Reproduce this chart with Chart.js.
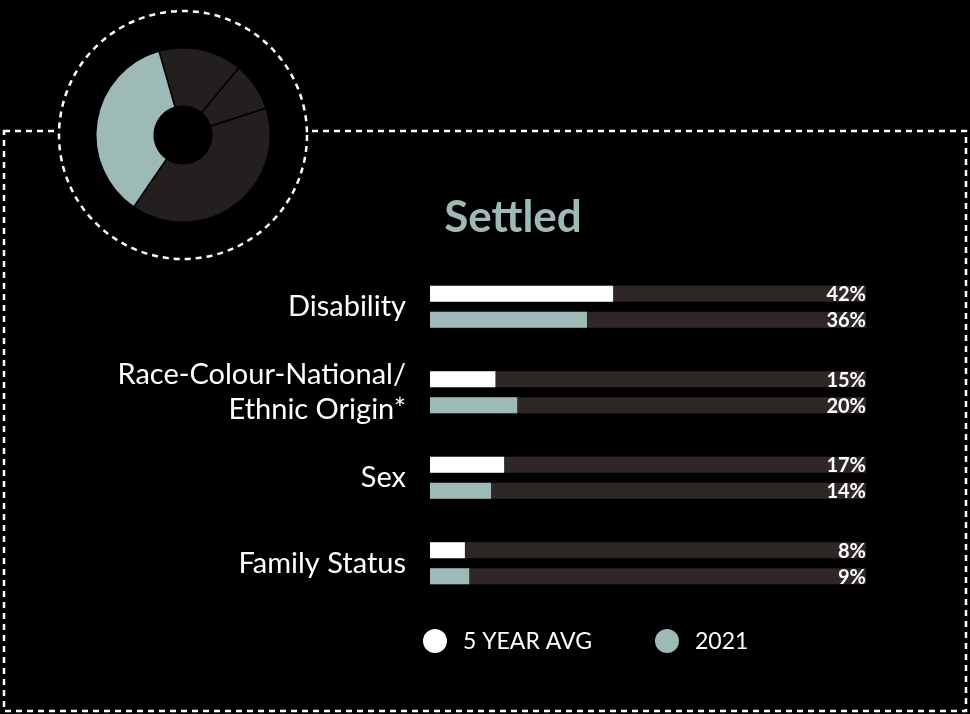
<!DOCTYPE html>
<html>
<head>
<meta charset="utf-8">
<script src="https://cdn.jsdelivr.net/npm/chart.js@4"></script>
<style>
  html, body { margin: 0; padding: 0; background: #000; }
  #wrap { position: relative; width: 970px; height: 714px; }
  #bars { position: absolute; left: 0; top: 0; }
  #donut { position: absolute; left: 53px; top: 5px; }
</style>
</head>
<body>
<div id="wrap">
  <canvas id="bars" width="970" height="714"></canvas>
  <canvas id="donut" width="260" height="260"></canvas>
</div>
<script>
const categories = ['Disability', ['Race-Colour-National/', 'Ethnic Origin*'], 'Sex', 'Family Status'];
const avg5 = [42, 15, 17, 8];
const y2021 = [36, 20, 14, 9];
const legendLabels = ['5 YEAR AVG', '2021'];
const donutValues = [15.5, 9, 39.5, 36];

const TEAL = '#9dbab7';
const TRACK = '#2e2726';
const FONT = 'Lato, "Open Sans", sans-serif';

window.onload = () => {
    // box, title, tracks, value labels, legend
    const barDeco = {
        id: 'barDeco',
        beforeDraw(chart) {
            const c = chart.ctx;
            c.save();
            c.strokeStyle = '#fff';
            c.lineWidth = 2.5;
            c.setLineDash([6, 5]);
            c.strokeRect(4, 131, 962, 580);
            c.restore();
            c.save();
            c.fillStyle = TEAL;
            c.font = 'bold 44px ' + FONT;
            c.textAlign = 'center';
            c.textBaseline = 'middle';
            c.fillText('Settled', 513, 218);
            c.restore();
        },
        beforeDatasetsDraw(chart) {
            const c = chart.ctx;
            const x = chart.scales.x;
            c.save();
            c.fillStyle = TRACK;
            chart.data.datasets.forEach((ds, i) => {
                chart.getDatasetMeta(i).data.forEach(bar => {
                    c.fillRect(x.getPixelForValue(0), bar.y - bar.height / 2, x.getPixelForValue(100) - x.getPixelForValue(0), bar.height);
                });
            });
            c.restore();
        },
        afterDatasetsDraw(chart) {
            const c = chart.ctx;
            const x = chart.scales.x;
            c.save();
            c.fillStyle = '#fff';
            c.font = 'bold 20px ' + FONT;
            c.textAlign = 'right';
            c.textBaseline = 'middle';
            chart.data.datasets.forEach((ds, i) => {
                chart.getDatasetMeta(i).data.forEach((bar, j) => {
                    c.fillText(ds.data[j] + '%', x.getPixelForValue(100), bar.y + 1);
                });
            });
            // legend
            const colors = ['#fff', TEAL];
            const xs = [435, 667];
            c.font = '23px ' + FONT;
            c.textAlign = 'left';
            legendLabels.forEach((t, i) => {
                c.fillStyle = colors[i];
                c.beginPath();
                c.arc(xs[i], 641, 12, 0, Math.PI * 2);
                c.fill();
                c.fillStyle = '#fff';
                c.fillText(t, xs[i] + 28, 642);
            });
            c.restore();
        }
    };

    new Chart(document.getElementById('bars'), {
        type: 'bar',
        data: {
            labels: categories,
            datasets: [
                { label: legendLabels[0], data: avg5, backgroundColor: '#fff' },
                { label: legendLabels[1], data: y2021, backgroundColor: TEAL }
            ]
        },
        options: {
            indexAxis: 'y',
            responsive: false,
            animation: false,
            categoryPercentage: 0.61,
            barPercentage: 0.615,
            layout: { padding: { top: 264, bottom: 108, right: 104, left: 0 } },
            plugins: { legend: { display: false }, tooltip: { enabled: false } },
            scales: {
                x: { min: 0, max: 100, display: false },
                y: {
                    grid: { display: false },
                    border: { display: false },
                    afterFit: (s) => { s.width = 430; },
                    ticks: { color: '#fff', padding: 16, font: { family: FONT, size: 29 } }
                }
            }
        },
        plugins: [barDeco]
    });

    const ring = {
        id: 'ring',
        beforeDraw(chart) {
            const c = chart.ctx;
            c.save();
            c.fillStyle = '#000';
            c.beginPath();
            c.arc(130, 130, 124, 0, Math.PI * 2);
            c.fill();
            c.strokeStyle = '#fff';
            c.lineWidth = 2.5;
            c.setLineDash([6, 5]);
            c.stroke();
            c.restore();
        }
    };

    new Chart(document.getElementById('donut'), {
        type: 'doughnut',
        data: {
            labels: ['Race', 'Family Status', 'Other', 'Disability'],
            datasets: [{
                data: donutValues,
                backgroundColor: ['#231f1e', '#231f1e', '#231f1e', TEAL],
                borderColor: '#000',
                borderWidth: 1.5
            }]
        },
        options: {
            responsive: false,
            animation: false,
            rotation: -16,
            cutout: '33%',
            layout: { padding: 42 },
            plugins: { legend: { display: false }, tooltip: { enabled: false } }
        },
        plugins: [ring]
    });
};
</script>
</body>
</html>
